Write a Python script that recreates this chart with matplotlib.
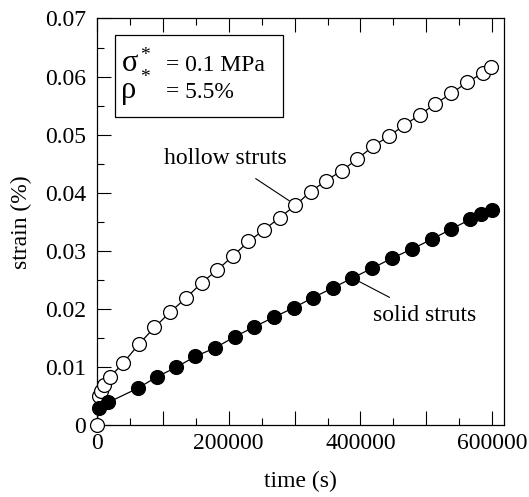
import matplotlib
matplotlib.use("Agg")
import matplotlib.pyplot as plt
from matplotlib.patches import Rectangle
from matplotlib.ticker import MultipleLocator

plt.rcParams["font.family"] = ["Liberation Serif", "DejaVu Serif"]

# creep strain vs time, hollow struts (open circles)
hollow_time = [0, 3500, 6400, 10300, 20200, 39900, 63500, 87200, 110800, 135400,
               159000, 182700, 206300, 230000, 253600, 277200, 300800, 324500,
               348100, 371800, 395400, 419000, 442700, 466300, 490000, 513600,
               538200, 561800, 585400, 598200]
hollow_strain = [0.0, 0.0050, 0.0059, 0.0069, 0.0083, 0.0107, 0.0139, 0.0168,
                 0.0194, 0.0219, 0.0245, 0.0267, 0.0291, 0.0316, 0.0336, 0.0357,
                 0.0378, 0.0402, 0.0421, 0.0438, 0.0458, 0.0480, 0.0497, 0.0516,
                 0.0534, 0.0553, 0.0571, 0.0590, 0.0606, 0.0616]

# solid struts (filled circles)
solid_time = [2400, 17200, 61500, 91100, 119600, 149200, 179700, 209200, 238800,
              269300, 298900, 327400, 358000, 387500, 418000, 447600, 478100,
              508600, 537200, 566700, 582500, 599200]
solid_strain = [0.0029, 0.0039, 0.0063, 0.0083, 0.0099, 0.0118, 0.0133, 0.0152,
                0.0169, 0.0186, 0.0202, 0.0219, 0.0236, 0.0253, 0.0270, 0.0287,
                0.0303, 0.0320, 0.0337, 0.0354, 0.0363, 0.0370]

x_ticks = [0, 100000, 200000, 300000, 400000, 500000, 600000]
x_tick_labels = ["0", "", "200000", "", "400000", "", "600000"]
y_ticks = [0, 0.01, 0.02, 0.03, 0.04, 0.05, 0.06, 0.07]
y_tick_labels = ["0", "0.01", "0.02", "0.03", "0.04", "0.05", "0.06", "0.07"]

FS = 17

fig = plt.figure(figsize=(5.29, 4.97), dpi=100)
ax = fig.add_axes([0.1834, 0.1449, 0.7694, 0.8179])

ax.plot(hollow_time, hollow_strain, "-o", color="black", lw=0.9,
        ms=10, mfc="white", mec="black", mew=0.9, clip_on=False, zorder=3)
ax.plot(solid_time, solid_strain, "-o", color="black", lw=0.9,
        ms=10, mfc="black", mec="black", mew=0.9, clip_on=False, zorder=4)

ax.set_xlim(0, 618000)
ax.set_ylim(0, 0.07)

ax.set_xticks(x_ticks)
ax.set_xticklabels(x_tick_labels)
ax.xaxis.set_minor_locator(MultipleLocator(50000))
ax.set_yticks(y_ticks)
ax.set_yticklabels(y_tick_labels)
ax.yaxis.set_minor_locator(MultipleLocator(0.005))

ax.tick_params(which="both", direction="in", top=True, right=False,
               labelsize=FS, width=0.8)
ax.tick_params(which="major", length=10)
ax.tick_params(which="minor", length=5)
ax.tick_params(axis="y", which="both", pad=8)
ax.tick_params(axis="x", which="both", pad=6)

for s in ax.spines.values():
    s.set_linewidth(0.9)

ax.set_xlabel("time (s)", fontsize=FS, labelpad=12)
ax.set_ylabel("strain (%)", fontsize=FS, labelpad=9)

# parameter box: applied stress and relative density
ax.add_patch(Rectangle((0.0442, 0.7577), 0.4128, 0.2017, transform=ax.transAxes,
                       fill=False, lw=0.9, ec="black", zorder=5))
ax.text(0.060, 0.8696, "σ", transform=ax.transAxes,
        fontsize=22, va="baseline", ha="left")
ax.text(0.106, 0.898, "*", transform=ax.transAxes,
        fontsize=14, va="baseline", ha="left")
ax.text(0.1695, 0.8696, "= 0.1 MPa", transform=ax.transAxes,
        fontsize=FS, va="baseline", ha="left")
ax.text(0.060, 0.8045, "ρ", transform=ax.transAxes,
        fontsize=22, va="baseline", ha="left")
ax.text(0.106, 0.844, "*", transform=ax.transAxes,
        fontsize=14, va="baseline", ha="left")
ax.text(0.1695, 0.8045, "= 5.5%", transform=ax.transAxes,
        fontsize=FS, va="baseline", ha="left")

ax.annotate("hollow struts", xy=(292000, 0.0386), xytext=(194500, 0.0459),
            fontsize=FS, ha="center", va="center",
            arrowprops=dict(arrowstyle="-", lw=0.8, color="black",
                            shrinkA=9, shrinkB=0))
ax.annotate("solid struts", xy=(396400, 0.0248), xytext=(497800, 0.0188),
            fontsize=FS, ha="center", va="center",
            arrowprops=dict(arrowstyle="-", lw=0.8, color="black",
                            shrinkA=8, shrinkB=0))

fig.savefig("out.png", dpi=100)
